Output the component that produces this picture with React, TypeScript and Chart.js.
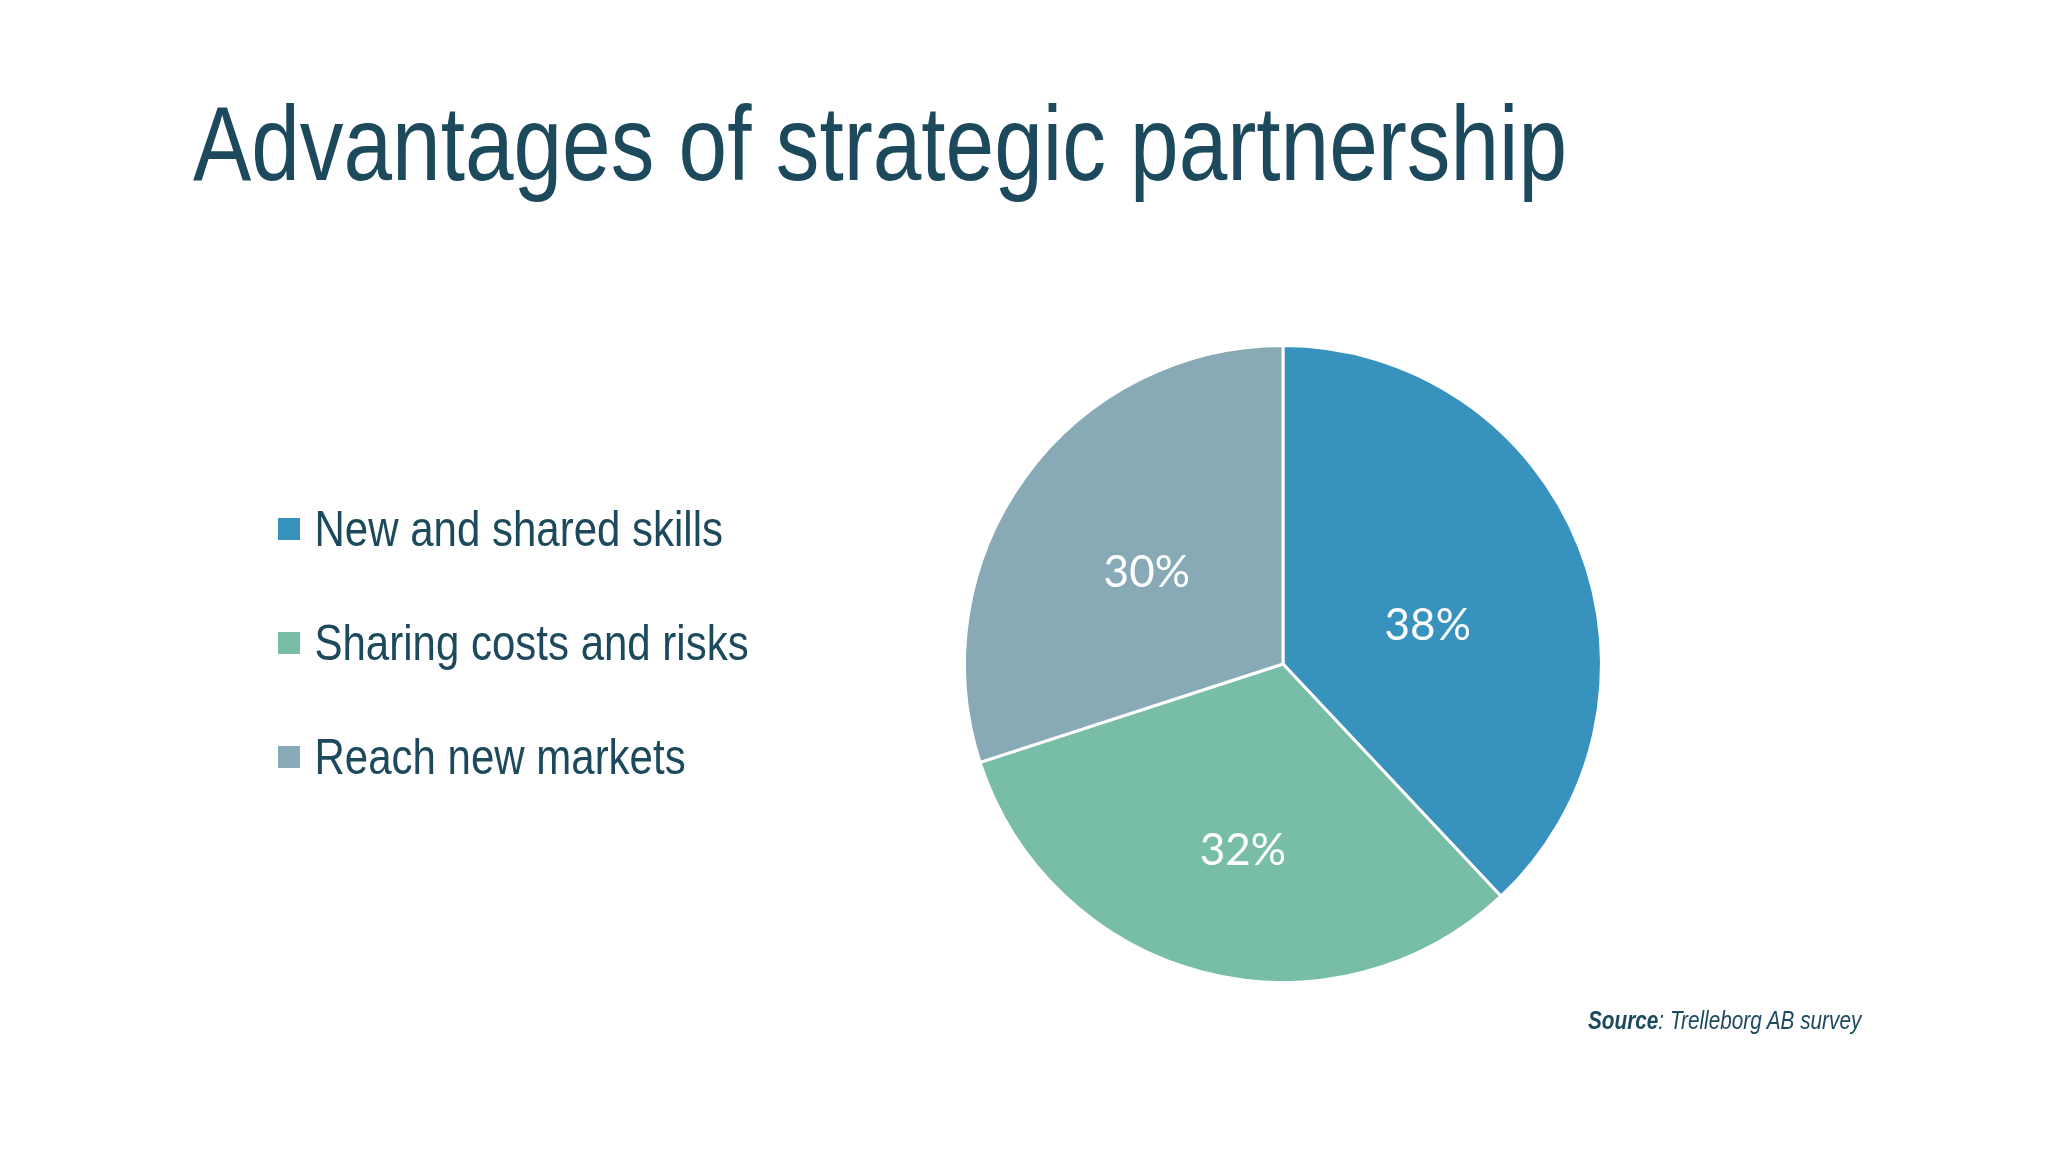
import React, { useEffect, useRef } from "react";
import { Chart, registerables } from "chart.js";

Chart.register(...registerables);

// chart values
const categories = ["New and shared skills", "Sharing costs and risks", "Reach new markets"];
const shares = [38, 32, 30];
const sliceColors = ["#3793bd", "#77bda8", "#87aab6"];

// Arial Narrow is not installed: Liberation Sans squeezed horizontally stands in for it
const SANS = '"Liberation Sans", Arial, sans-serif';
const TITLE_SCALE = 0.824;
const LEGEND_SCALE = 0.84;
const INK = "#1c4a5c";

// where each % label sits: fraction along the slice angle and of the radius
const labelPlacement = [
  { along: 0.55, radius: 0.47 },
  { along: 0.48, radius: 0.6 },
  { along: 0.48, radius: 0.515 },
];

const sliceLabels = {
  id: "sliceLabels",
  afterDatasetsDraw(chart: Chart) {
    const { ctx } = chart;
    const meta = chart.getDatasetMeta(0);
    ctx.save();
    ctx.fillStyle = "#ffffff";
    ctx.font = '44px Lato, "Open Sans", sans-serif';
    ctx.textAlign = "center";
    ctx.textBaseline = "middle";
    meta.data.forEach((arc: any, i: number) => {
      const { x, y, startAngle, endAngle, outerRadius } = arc.getProps(
        ["x", "y", "startAngle", "endAngle", "outerRadius"],
        true
      );
      const p = labelPlacement[i];
      const a = startAngle + (endAngle - startAngle) * p.along;
      const r = outerRadius * p.radius;
      ctx.fillText(shares[i] + "%", x + Math.cos(a) * r, y + Math.sin(a) * r);
    });
    ctx.restore();
  },
};

// legend on the left, drawn with a narrow (squeezed) font
const sideLegend = {
  id: "sideLegend",
  afterDraw(chart: Chart) {
    const { ctx } = chart;
    const labels = (chart.data.labels || []) as string[];
    const colors = chart.data.datasets[0].backgroundColor as string[];
    const boxX = 278;
    const firstY = 529;
    const rowGap = 114;
    const box = 22;
    const textX = 314.5;
    ctx.save();
    ctx.font = `50px ${SANS}`;
    ctx.textBaseline = "alphabetic";
    labels.forEach((label, i) => {
      const cy = firstY + i * rowGap;
      ctx.fillStyle = colors[i];
      ctx.fillRect(boxX, cy - box / 2, box, box);
      ctx.save();
      ctx.translate(textX, cy + 16.5);
      ctx.scale(LEGEND_SCALE, 1);
      ctx.fillStyle = INK;
      ctx.fillText(label, 0, 0);
      ctx.restore();
    });
    ctx.restore();
  },
};

const PieChart: React.FC = () => {
  const canvasRef = useRef<HTMLCanvasElement | null>(null);
  const chartRef = useRef<Chart<"pie"> | null>(null);

  useEffect(() => {
    if (!canvasRef.current) return;
    if (chartRef.current) chartRef.current.destroy();

    chartRef.current = new Chart(canvasRef.current, {
      type: "pie",
      data: {
        labels: categories,
        datasets: [
          {
            data: shares,
            backgroundColor: sliceColors,
            borderColor: "#ffffff",
            borderWidth: 3,
            hoverBorderWidth: 3,
            hoverOffset: 0,
          },
        ],
      },
      options: {
        responsive: true,
        maintainAspectRatio: false,
        animation: false,
        layout: { padding: { left: 708, top: 344, right: 190, bottom: 168 } },
        plugins: {
          legend: { display: false },
          tooltip: { enabled: false },
        },
      },
      plugins: [sliceLabels, sideLegend],
    });

    return () => {
      if (chartRef.current) {
        chartRef.current.destroy();
        chartRef.current = null;
      }
    };
  }, []);

  return (
    <div style={{ position: "absolute", left: 0, top: 0, width: 2048, height: 1152 }}>
      <canvas ref={canvasRef}></canvas>
    </div>
  );
};

export default function App() {
  useEffect(() => {
    document.body.style.margin = "0";
    document.body.style.background = "#ffffff";
  }, []);

  return (
    <div style={{ position: "absolute", left: 0, top: 0, width: 2048, height: 1152, background: "#fff", overflow: "hidden" }}>
      <PieChart />
      <div
        style={{
          position: "absolute",
          left: 193,
          top: 90,
          fontFamily: SANS,
          fontSize: 106,
          lineHeight: "106px",
          color: INK,
          whiteSpace: "nowrap",
          transform: `scaleX(${TITLE_SCALE})`,
          transformOrigin: "left top",
        }}
      >
        Advantages of strategic partnership
      </div>
      <div
        style={{
          position: "absolute",
          left: 1588,
          top: 1008,
          fontFamily: SANS,
          fontSize: 25,
          lineHeight: "25px",
          fontStyle: "italic",
          color: INK,
          whiteSpace: "nowrap",
          transform: "scaleX(0.83)",
          transformOrigin: "left top",
        }}
      >
        <b>Source</b>: Trelleborg AB survey
      </div>
    </div>
  );
}
